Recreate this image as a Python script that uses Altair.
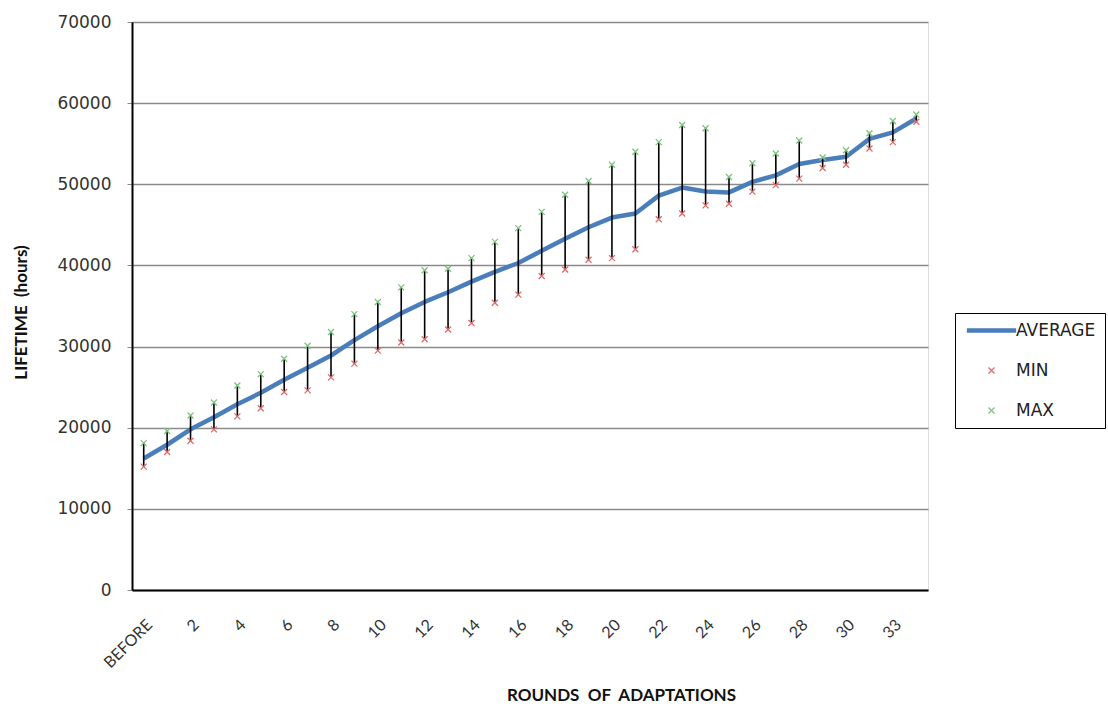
import altair as alt
import pandas as pd

# ---- data ----
categories = ["BEFORE"] + [str(i) for i in range(1, 32)] + ["33", "34"]
axis_labels = ["BEFORE"] + [str(i) for i in range(2, 31, 2)] + ["33"]

average = [16200, 17900, 19800, 21300, 22900, 24300, 25900, 27400, 28900, 30800,
           32500, 34100, 35500, 36700, 38000, 39200, 40300, 41800, 43300, 44700,
           45900, 46400, 48600, 49600, 49100, 49000, 50300, 51100, 52500, 53000,
           53400, 55600, 56400, 58100]
minimum = [15200, 17000, 18400, 19800, 21400, 22400, 24400, 24600, 26200, 27900,
           29500, 30500, 30900, 32100, 32900, 35400, 36400, 38700, 39500, 40700,
           40900, 42000, 45700, 46400, 47400, 47600, 49100, 49900, 50700, 52000,
           52400, 54400, 55200, 57700]
maximum = [18100, 19600, 21500, 23100, 25200, 26600, 28500, 30100, 31800, 34000,
           35500, 37300, 39400, 39600, 40900, 42900, 44600, 46600, 48700, 50400,
           52400, 54000, 55200, 57300, 56900, 50900, 52600, 53800, 55400, 53300,
           54200, 56300, 57800, 58600]

series_names = ["AVERAGE", "MIN", "MAX"]
series_colors = ["#4a7ebb", "#e06b6b", "#7fc27f"]
series_shapes = ["M-8,-0.5L8,-0.5L8,0.5L-8,0.5Z",
                 "M-1,-1L1,1M1,-1L-1,1",
                 "M-1,-1L1,1M1,-1L-1,1"]
y_ticks = [0, 10000, 20000, 30000, 40000, 50000, 60000, 70000]

# ---- tables ----
wide = pd.DataFrame({"round": categories, "AVERAGE": average, "MIN": minimum, "MAX": maximum})
avg_df = pd.DataFrame({"round": categories, "value": average, "series": "AVERAGE"})
pts_df = pd.concat([
    pd.DataFrame({"round": categories, "value": minimum, "series": "MIN"}),
    pd.DataFrame({"round": categories, "value": maximum, "series": "MAX"}),
], ignore_index=True)

y_title = "LIFETIME\u00a0 (hours)"
x_title = "ROUNDS\u00a0 OF\u00a0 ADAPTATIONS"

x_axis = alt.Axis(values=axis_labels, labelAngle=315, labelAlign="right", labelBaseline="middle",
                  labelFont="Lato", labelFontSize=16, labelColor="#333333", labelPadding=32,
                  labelOffset=6, labelOverlap=False, ticks=False, grid=False,
                  domainColor="#000000", domainWidth=2,
                  titleFont="Lato", titleFontSize=17, titleFontWeight="bold", titleColor="#111111",
                  titleX=489, titleY=105, titleAlign="center", titleBaseline="middle")
y_axis = alt.Axis(values=y_ticks, format="d", grid=True, gridColor="#8a8a8a", gridWidth=1.5,
                  domainColor="#000000", domainWidth=2, tickColor="#8a8a8a", tickSize=5,
                  labelFont="DejaVu Sans", labelFontSize=17, labelColor="#333333", labelPadding=16,
                  titleFont="Lato", titleFontSize=17, titleFontWeight="bold", titleColor="#111111",
                  titleX=-111, titleY=290, titleAngle=270, titleAlign="center", titleBaseline="middle")

x_scale = alt.Scale(domain=categories)
y_scale = alt.Scale(domain=[0, 70000], nice=False)

color_scale = alt.Scale(domain=series_names, range=series_colors)
shape_scale = alt.Scale(domain=series_names, range=series_shapes)

legend = alt.Legend(title=None, orient="none", legendX=823, legendY=291, direction="vertical",
                    padding=9, strokeColor="#000000", fillColor="#ffffff",
                    labelFont="DejaVu Sans", labelFontSize=17, labelColor="#222222",
                    symbolSize=36, symbolStrokeWidth=1.3, symbolOffset=19, labelOffset=16,
                    rowPadding=22)

x_enc = alt.X("round:O", scale=x_scale, axis=x_axis, title=x_title)

line = alt.Chart(avg_df).mark_line(strokeWidth=4.5, strokeJoin="round").encode(
    x=x_enc,
    y=alt.Y("value:Q", scale=y_scale, axis=y_axis, title=y_title),
    stroke=alt.Stroke("series:N", scale=color_scale, legend=legend),
)

rules = alt.Chart(wide).mark_rule(color="#000000", strokeWidth=1.6).encode(
    x=x_enc,
    y=alt.Y("MIN:Q", scale=y_scale, axis=y_axis, title=y_title),
    y2="MAX:Q",
)

points = alt.Chart(pts_df).mark_point(filled=True, size=36, strokeWidth=1.3, opacity=1).encode(
    x=x_enc,
    y=alt.Y("value:Q", scale=y_scale, axis=y_axis, title=y_title),
    fill=alt.Fill("series:N", scale=color_scale, legend=legend),
    stroke=alt.Stroke("series:N", scale=color_scale, legend=legend),
    shape=alt.Shape("series:N", scale=shape_scale, legend=legend),
)

chart = alt.layer(line, rules, points).properties(
    width=796, height=568,
    padding={"left": 132, "top": 22, "right": 180, "bottom": 117},
    autosize=alt.AutoSizeParams(type="none"),
).configure_view(stroke=None).configure(background="#ffffff")

chart.save("out.html", embed_options={"renderer": "svg", "actions": False})
